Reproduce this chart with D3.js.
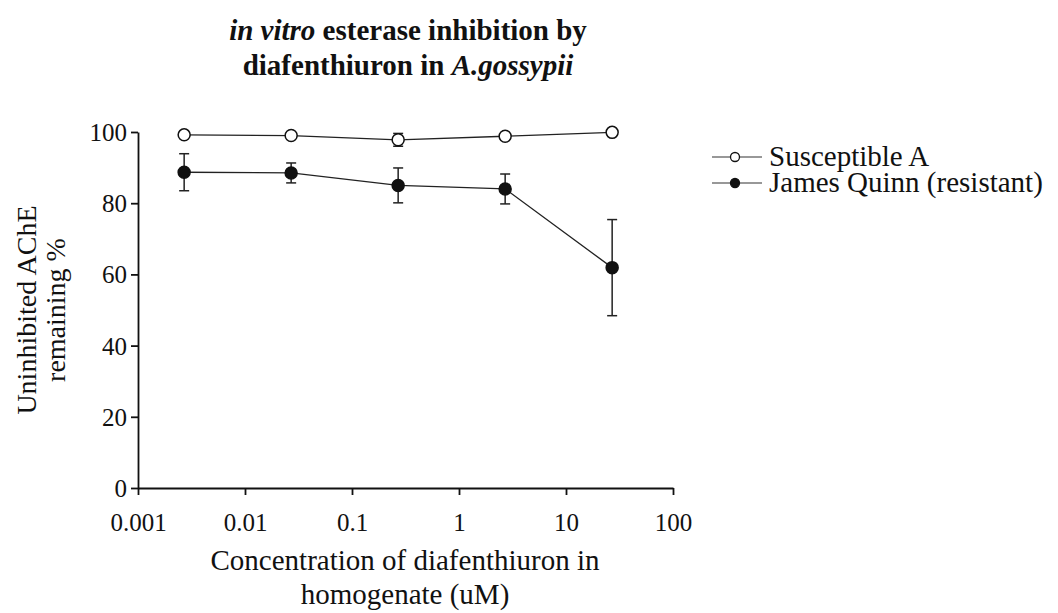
<!DOCTYPE html>
<html>
<head>
<meta charset="utf-8">
<script src="https://cdn.jsdelivr.net/npm/d3@7"></script>
<style>
  body { margin: 0; background: #fff; }
  text { font-family: "Liberation Serif", "Times New Roman", serif; fill: #111; }
</style>
</head>
<body>
<div id="chart-area"></div>
<script>
let concentrations = [0.0027, 0.027, 0.27, 2.7, 27]
let susceptible = [99.2, 99.0, 97.8, 98.8, 99.9]
let susceptibleErr = [0.4, 0.4, 1.8, 0.5, 0.4]
let resistant = [88.7, 88.5, 85.0, 84.0, 61.9]
let resistantErr = [5.2, 2.8, 4.9, 4.2, 13.5]
let xTicks = [0.001, 0.01, 0.1, 1, 10, 100]
let yTicks = [0, 20, 40, 60, 80, 100]
let seriesNames = ["Susceptible A", "James Quinn (resistant)"]

let margin = { top: 132, left: 138 }
let canvasWidth = 535
let canvasHeight = 356

let svg = d3.select("#chart-area").append("svg")
  .attr("width", 1058)
  .attr("height", 613)

let g = svg.append("g")
  .attr("transform", "translate(" + margin.left + ", " + margin.top + ")")

let x = d3.scaleLog().domain([0.001, 100]).range([0, canvasWidth])
let y = d3.scaleLinear().domain([0, 100]).range([canvasHeight, 0])

// axes
let xAxis = g.append("g")
  .attr("transform", "translate(0," + canvasHeight + ")")
  .call(d3.axisBottom(x).tickValues(xTicks).tickSize(7).tickSizeOuter(0)
    .tickFormat(d => String(d)))
let yAxis = g.append("g")
  .call(d3.axisLeft(y).tickValues(yTicks).tickSize(7).tickSizeOuter(0))

g.selectAll(".domain, .tick line").attr("stroke", "#111").attr("stroke-width", 1.8)
xAxis.selectAll("text").style("font-size", "25px").attr("dy", null).attr("y", 43)
yAxis.selectAll("text").style("font-size", "25px").attr("x", -11).attr("dy", "0.34em")

// titles
let title = svg.append("text")
  .attr("x", 408).attr("y", 40)
  .attr("text-anchor", "middle")
  .style("font-size", "29px").style("font-weight", "bold")
title.append("tspan").style("font-style", "italic").text("in vitro")
title.append("tspan").text(" esterase inhibition by")
let title2 = svg.append("text")
  .attr("x", 408).attr("y", 75)
  .attr("text-anchor", "middle")
  .style("font-size", "29px").style("font-weight", "bold")
title2.append("tspan").text("diafenthiuron in ")
title2.append("tspan").style("font-style", "italic").text("A.gossypii")

svg.append("text")
  .attr("x", 405).attr("y", 570)
  .attr("text-anchor", "middle").style("font-size", "29px")
  .text("Concentration of diafenthiuron in")
svg.append("text")
  .attr("x", 405).attr("y", 604)
  .attr("text-anchor", "middle").style("font-size", "29px")
  .text("homogenate (uM)")

let yLabel = svg.append("text")
  .attr("transform", "translate(36," + (margin.top + canvasHeight / 2) + ") rotate(-90)")
  .attr("text-anchor", "middle").style("font-size", "28px")
yLabel.append("tspan").attr("x", 0).attr("y", 0).text("Uninhibited AChE")
yLabel.append("tspan").attr("x", 0).attr("y", 29).text("remaining %")

// series
let series = [
  { name: seriesNames[0], values: susceptible, err: susceptibleErr, fill: "#fff" },
  { name: seriesNames[1], values: resistant, err: resistantErr, fill: "#111" }
]

let line = d3.line()
  .x((d, i) => x(concentrations[i]))
  .y(d => y(d))

series.forEach(s => {
  g.append("path")
    .datum(s.values)
    .attr("fill", "none")
    .attr("stroke", "#222")
    .attr("stroke-width", 1.3)
    .attr("d", line)

  let bars = g.append("g").selectAll("g")
    .data(s.values)
    .join("g")
    .attr("stroke", "#222").attr("stroke-width", 1.5)
  bars.append("line")
    .attr("x1", (d, i) => x(concentrations[i])).attr("x2", (d, i) => x(concentrations[i]))
    .attr("y1", (d, i) => y(d + s.err[i])).attr("y2", (d, i) => y(d - s.err[i]))
  bars.append("line")
    .attr("x1", (d, i) => x(concentrations[i]) - 5).attr("x2", (d, i) => x(concentrations[i]) + 5)
    .attr("y1", (d, i) => y(d + s.err[i])).attr("y2", (d, i) => y(d + s.err[i]))
  bars.append("line")
    .attr("x1", (d, i) => x(concentrations[i]) - 5).attr("x2", (d, i) => x(concentrations[i]) + 5)
    .attr("y1", (d, i) => y(d - s.err[i])).attr("y2", (d, i) => y(d - s.err[i]))

  g.append("g").selectAll("circle")
    .data(s.values)
    .join("circle")
    .attr("cx", (d, i) => x(concentrations[i]))
    .attr("cy", d => y(d))
    .attr("r", 6)
    .attr("fill", s.fill)
    .attr("stroke", "#111")
    .attr("stroke-width", 1.5)
})

// legend
let legend = svg.append("g").selectAll("g")
  .data(series)
  .join("g")
  .attr("transform", (d, i) => "translate(712," + (157 + i * 26) + ")")
legend.append("line")
  .attr("x1", 0).attr("x2", 50).attr("y1", 0).attr("y2", 0)
  .attr("stroke", "#333").attr("stroke-width", 1.2)
legend.append("circle")
  .attr("cx", 23).attr("cy", 0).attr("r", 4.5)
  .attr("fill", d => d.fill).attr("stroke", "#111").attr("stroke-width", 1.3)
legend.append("text")
  .attr("x", 57).attr("y", 9)
  .style("font-size", "29px")
  .text(d => d.name)
</script>
</body>
</html>
